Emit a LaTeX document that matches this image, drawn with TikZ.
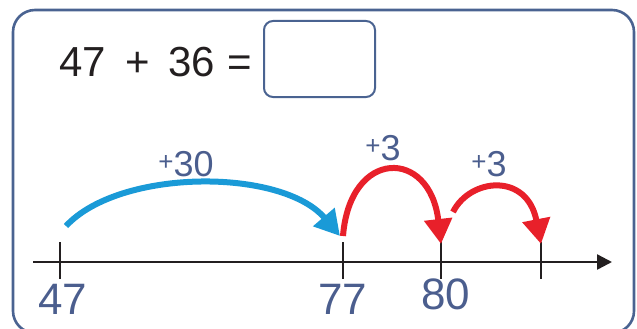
\documentclass[tikz,border=0pt]{standalone}
\usepackage{fontspec}
\setmainfont{Liberation Sans}
\usetikzlibrary{arrows.meta}
\definecolor{slate}{HTML}{4A6391}
\definecolor{ink}{HTML}{4B5E8E}
\definecolor{jumpblue}{HTML}{1A9AD7}
\definecolor{jumpred}{HTML}{E8202A}
\definecolor{txt}{HTML}{231F20}

\begin{document}
\begin{tikzpicture}[x=1pt,y=-1pt,
    frame/.style={draw=slate,line width=2.6pt,rounded corners=22pt},
    answer/.style={draw=slate,line width=2pt,rounded corners=9pt},
    hand/.style={text=ink,inner sep=0pt,font=\fontsize{44}{44}\selectfont},
    jumplbl/.style={text=ink,inner sep=0pt,font=\fontsize{36}{36}\selectfont},
    tick/.style={line width=2.4pt,txt},
    jump/.style={line width=6pt,-{Triangle[length=25pt,width=27pt]}}]
  \useasboundingbox (0,0) rectangle (637,329);
  \clip (0,0) rectangle (637,329);
  % Frame.
  \draw[frame] (13,10) rectangle (634,333);
  % The sum.
  \node[text=txt,anchor=base west,inner sep=0pt,font=\fontsize{42}{42}\selectfont]
    (sum) at (59,77) {47\hspace{20pt}+\hspace{18pt}36\hspace{12pt}=};
  \draw[answer] (264,21) rectangle (375,97);
  % Number line.
  \coordinate (start) at (33,262);
  \coordinate (stop) at (612,262);
  \draw[line width=2.4pt,txt,-{Triangle[length=15pt,width=15pt]}] (start) -- (stop);
  \foreach \n/\x in {47/60,77/343,80/441,83/541}
    \draw[tick] (\x,242) coordinate (t\n) -- (\x,279);
  \node[hand] (l47) at (63,299) {47};
  \node[hand] (l77) at (343,299) {77};
  \node[hand] (l80) at (446,294) {80};
  % Jumps.
  \coordinate (b0) at (66,226);
  \coordinate (r0) at (343,236);
  \coordinate (r1) at (453,212);
  \draw[jump,jumpblue] (b0) .. controls (120,168) and (282,168) .. ([xshift=-3pt,yshift=6pt]t77);
  \draw[jump,jumpred] (r0) .. controls (350,148) and (430,148) .. ([yshift=-2pt]t80);
  \draw[jump,jumpred] (r1) .. controls (470,178) and (527,172) .. ([yshift=-2pt]t83);
  \node[jumplbl] (p30) at (186,164) {\raisebox{6pt}{\fontsize{26}{26}\selectfont+}30};
  \node[jumplbl] (p3a) at (383,148) {\raisebox{6pt}{\fontsize{26}{26}\selectfont+}3};
  \node[jumplbl] (p3b) at (489,164) {\raisebox{6pt}{\fontsize{26}{26}\selectfont+}3};
\end{tikzpicture}
\end{document}
